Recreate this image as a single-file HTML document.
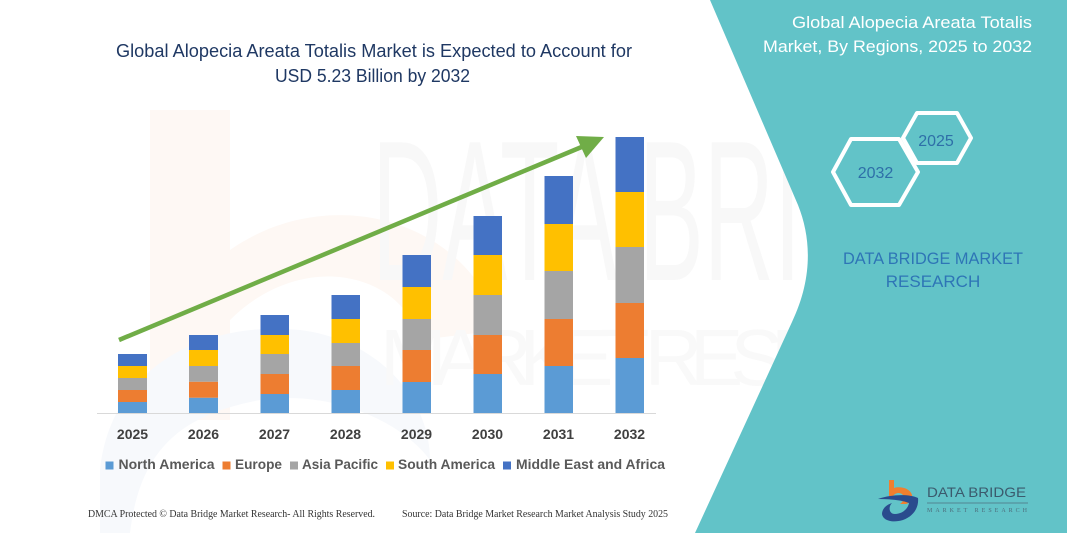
<!DOCTYPE html>
<html>
<head>
<meta charset="utf-8">
<style>
html,body{margin:0;padding:0;background:#fff;}
svg{display:block;}
</style>
</head>
<body>
<svg width="1067" height="533" viewBox="0 0 1067 533" xmlns="http://www.w3.org/2000/svg">
  <rect x="0" y="0" width="1067" height="533" fill="#ffffff"/>

  <!-- faint watermark -->
  <path d="M150,110 L230,110 L230,250 C330,180 470,220 500,330 L420,340 C400,270 300,250 230,320 L230,420 L150,420 Z" fill="#fef8f4"/>
  <path d="M100,470 C110,370 200,320 300,330 C380,340 430,400 430,460 C400,420 330,390 260,400 C180,415 140,450 130,533 L100,533 Z" fill="#f7f9fc"/>
  <text x="372" y="280" font-family="Liberation Sans, sans-serif" font-size="200" fill="#f8f8f8" textLength="640" lengthAdjust="spacingAndGlyphs">DATA BRIDGE</text>
  <text x="380" y="385" font-family="Liberation Sans, sans-serif" font-size="80" fill="#f9f9f9" textLength="620" lengthAdjust="spacing">MARKET RESEARCH</text>

  <!-- right teal panel -->
  <path d="M710,0 L1067,0 L1067,533 L695,533 L792,322 C812,280 812,240 798,205 Z" fill="#62c3c8"/>

  <!-- title -->
  <text x="116" y="57" font-family="Liberation Sans, sans-serif" font-size="18" fill="#1f3863" textLength="516" lengthAdjust="spacingAndGlyphs">Global Alopecia Areata Totalis Market is Expected to Account for</text>
  <text x="275" y="82" font-family="Liberation Sans, sans-serif" font-size="18" fill="#1f3863" textLength="195" lengthAdjust="spacingAndGlyphs">USD 5.23 Billion by 2032</text>

  <!-- axis baseline -->
  <line x1="97" y1="413.5" x2="656" y2="413.5" stroke="#d9d9d9" stroke-width="1"/>

  <!-- 2025 -->
  <g>
    <rect x="118" y="402" width="29" height="11" fill="#5b9bd5"/>
    <rect x="118" y="390" width="29" height="12" fill="#ed7d31"/>
    <rect x="118" y="378" width="29" height="12" fill="#a5a5a5"/>
    <rect x="118" y="366" width="29" height="12" fill="#ffc000"/>
    <rect x="118" y="354" width="29" height="12" fill="#4472c4"/>
  </g>
  <!-- 2026 -->
  <g>
    <rect x="189" y="397.7" width="29" height="15.3" fill="#5b9bd5"/>
    <rect x="189" y="381.7" width="29" height="16" fill="#ed7d31"/>
    <rect x="189" y="366" width="29" height="15.7" fill="#a5a5a5"/>
    <rect x="189" y="350" width="29" height="16" fill="#ffc000"/>
    <rect x="189" y="335" width="29" height="15" fill="#4472c4"/>
  </g>
  <!-- 2027 -->
  <g>
    <rect x="260.5" y="394" width="28.5" height="19" fill="#5b9bd5"/>
    <rect x="260.5" y="374" width="28.5" height="20" fill="#ed7d31"/>
    <rect x="260.5" y="354" width="28.5" height="20" fill="#a5a5a5"/>
    <rect x="260.5" y="335" width="28.5" height="19" fill="#ffc000"/>
    <rect x="260.5" y="315" width="28.5" height="20" fill="#4472c4"/>
  </g>
  <!-- 2028 -->
  <g>
    <rect x="331.5" y="390" width="28.5" height="23" fill="#5b9bd5"/>
    <rect x="331.5" y="366" width="28.5" height="24" fill="#ed7d31"/>
    <rect x="331.5" y="343" width="28.5" height="23" fill="#a5a5a5"/>
    <rect x="331.5" y="319" width="28.5" height="24" fill="#ffc000"/>
    <rect x="331.5" y="295" width="28.5" height="24" fill="#4472c4"/>
  </g>
  <!-- 2029 -->
  <g>
    <rect x="402.5" y="382" width="28.5" height="31" fill="#5b9bd5"/>
    <rect x="402.5" y="350" width="28.5" height="32" fill="#ed7d31"/>
    <rect x="402.5" y="319" width="28.5" height="31" fill="#a5a5a5"/>
    <rect x="402.5" y="287" width="28.5" height="32" fill="#ffc000"/>
    <rect x="402.5" y="255" width="28.5" height="32" fill="#4472c4"/>
  </g>
  <!-- 2030 -->
  <g>
    <rect x="473.5" y="374" width="28.5" height="39" fill="#5b9bd5"/>
    <rect x="473.5" y="335" width="28.5" height="39" fill="#ed7d31"/>
    <rect x="473.5" y="295" width="28.5" height="40" fill="#a5a5a5"/>
    <rect x="473.5" y="255" width="28.5" height="40" fill="#ffc000"/>
    <rect x="473.5" y="216" width="28.5" height="39" fill="#4472c4"/>
  </g>
  <!-- 2031 -->
  <g>
    <rect x="544.5" y="366" width="28.5" height="47" fill="#5b9bd5"/>
    <rect x="544.5" y="319" width="28.5" height="47" fill="#ed7d31"/>
    <rect x="544.5" y="271" width="28.5" height="48" fill="#a5a5a5"/>
    <rect x="544.5" y="224" width="28.5" height="47" fill="#ffc000"/>
    <rect x="544.5" y="176" width="28.5" height="48" fill="#4472c4"/>
  </g>
  <!-- 2032 -->
  <g>
    <rect x="615.5" y="358" width="28.5" height="55" fill="#5b9bd5"/>
    <rect x="615.5" y="303" width="28.5" height="55" fill="#ed7d31"/>
    <rect x="615.5" y="247" width="28.5" height="56" fill="#a5a5a5"/>
    <rect x="615.5" y="192" width="28.5" height="55" fill="#ffc000"/>
    <rect x="615.5" y="137" width="28.5" height="55" fill="#4472c4"/>
  </g>

  <!-- green arrow -->
  <line x1="119" y1="340" x2="584" y2="146" stroke="#70ad47" stroke-width="4.5"/>
  <polygon points="604,137 576,136 586,158" fill="#70ad47"/>

  <!-- year labels -->
  <g font-family="Liberation Sans, sans-serif" font-size="14" font-weight="bold" fill="#404040" text-anchor="middle">
    <text x="132.5" y="439">2025</text>
    <text x="203.5" y="439">2026</text>
    <text x="274.5" y="439">2027</text>
    <text x="345.5" y="439">2028</text>
    <text x="416.5" y="439">2029</text>
    <text x="487.5" y="439">2030</text>
    <text x="558.5" y="439">2031</text>
    <text x="629.5" y="439">2032</text>
  </g>

  <!-- legend -->
  <g font-family="Liberation Sans, sans-serif" font-size="14" font-weight="bold" fill="#595959">
    <rect x="105.5" y="461.5" width="8" height="8" fill="#5b9bd5"/>
    <text x="118.5" y="469" textLength="96" lengthAdjust="spacingAndGlyphs">North America</text>
    <rect x="222.5" y="461.5" width="8" height="8" fill="#ed7d31"/>
    <text x="235" y="469" textLength="47" lengthAdjust="spacingAndGlyphs">Europe</text>
    <rect x="290" y="461.5" width="8" height="8" fill="#a5a5a5"/>
    <text x="302" y="469" textLength="76" lengthAdjust="spacingAndGlyphs">Asia Pacific</text>
    <rect x="386" y="461.5" width="8" height="8" fill="#ffc000"/>
    <text x="398" y="469" textLength="97" lengthAdjust="spacingAndGlyphs">South America</text>
    <rect x="503" y="461.5" width="8" height="8" fill="#4472c4"/>
    <text x="516" y="469" textLength="149" lengthAdjust="spacingAndGlyphs">Middle East and Africa</text>
  </g>

  <!-- footer -->
  <g font-family="Liberation Serif, serif" font-size="10" fill="#333333">
    <text x="88" y="517" textLength="287" lengthAdjust="spacingAndGlyphs">DMCA Protected © Data Bridge Market Research-  All Rights Reserved.</text>
    <text x="402" y="517" textLength="266" lengthAdjust="spacingAndGlyphs">Source: Data Bridge Market Research  Market Analysis Study 2025</text>
  </g>

  <!-- right panel title -->
  <g font-family="Liberation Sans, sans-serif" font-size="16.5" fill="#ffffff">
    <text x="792" y="28" textLength="240" lengthAdjust="spacingAndGlyphs">Global Alopecia Areata Totalis</text>
    <text x="763" y="52" textLength="269" lengthAdjust="spacingAndGlyphs">Market, By Regions, 2025 to 2032</text>
  </g>

  <!-- hexagons -->
  <polygon points="833,172 851,139 899,139 918,172 899,205 851,205" fill="none" stroke="#ffffff" stroke-width="4" stroke-linejoin="round"/>
  <polygon points="903,138 917,113 957,113 971,138 957,163 917,163" fill="none" stroke="#ffffff" stroke-width="4" stroke-linejoin="round"/>
  <g font-family="Liberation Sans, sans-serif" font-size="16" fill="#2e6fa8" text-anchor="middle">
    <text x="936" y="146">2025</text>
    <text x="875.5" y="178">2032</text>
  </g>

  <!-- DATA BRIDGE MARKET RESEARCH -->
  <g font-family="Liberation Sans, sans-serif" font-size="17" fill="#2e75b6">
    <text x="843" y="264" textLength="180" lengthAdjust="spacingAndGlyphs">DATA BRIDGE MARKET</text>
    <text x="933" y="287" text-anchor="middle">RESEARCH</text>
  </g>

  <!-- logo -->
  <g>
    <path d="M889,480 L894,480 L894,488 C900,486 910,488 912,495 C913,500 910,503 906,504 L900,504 C904,501 905,497 902,494 C899,492 895,493 893,496 L889,497 Z" fill="#f07f2f"/>
    <path d="M878,499 C892,494 910,494 918,498 C919,507 914,516 903,520 C893,523 883,521 882,514 C882,509 886,505 892,503 C888,507 889,514 895,514 C902,514 908,509 909,503 C902,500 890,499 878,499 Z" fill="#2a4b8d"/>
    <text x="927" y="497" font-family="Liberation Sans, sans-serif" font-size="14" fill="#3b5a6d" textLength="99" lengthAdjust="spacingAndGlyphs">DATA BRIDGE</text>
    <line x1="927" y1="503" x2="1028" y2="503" stroke="#4d7080" stroke-width="0.8"/>
    <text x="927" y="512" font-family="Liberation Serif, serif" font-size="6" fill="#4d6d7c" textLength="100" lengthAdjust="spacing">MARKET  RESEARCH</text>
  </g>
</svg>
</body>
</html>
